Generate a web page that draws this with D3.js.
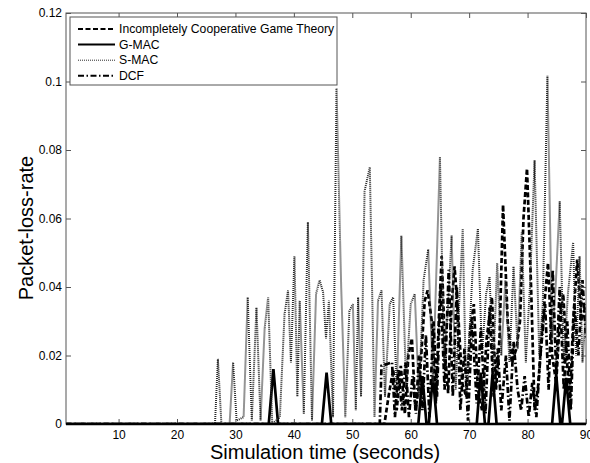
<!DOCTYPE html>
<html>
<head>
<meta charset="utf-8">
<script src="https://cdn.jsdelivr.net/npm/d3@7"></script>
<style>
  body { margin: 0; background: #fff; }
  svg { font-family: Arial, "Liberation Sans", sans-serif; }
</style>
</head>
<body>
<svg id="chart" width="590" height="463"></svg>
<script>
// tick labels
const xTicks = [10, 20, 30, 40, 50, 60, 70, 80, 90];
const yTicks = [0, 0.02, 0.04, 0.06, 0.08, 0.1, 0.12];

// series as [time, packet-loss-rate]
const gameTheory = [[1,0],[55.5,0],[56.2,0.008],[57,0.016],[57.6,0.004],[58.3,0.017],[59,0.003],[59.6,0.02],[60.2,0.025],[60.8,0.004],[61.5,0.012],[62.4,0.036],[62.9,0.039],[63.6,0.03],[64.3,0.006],[64.8,0.03],[65.3,0.049],[65.9,0.02],[66.4,0.009],[67,0.035],[67.5,0.046],[68.2,0.03],[68.8,0.012],[69.5,0.008],[70.2,0.028],[70.8,0.035],[71.5,0.01],[72.2,0.004],[73,0.025],[73.9,0.037],[74.6,0.01],[75.2,0.025],[75.8,0.064],[76.6,0.03],[77.3,0.018],[78.1,0.022],[78.7,0.03],[79.3,0.06],[79.9,0.0746],[80.6,0.04],[81.2,0.004],[81.8,0.011],[82.6,0.03],[83.5,0.047],[84.2,0.02],[84.9,0.012],[85.5,0.03],[86.1,0.038],[86.7,0.02],[87.2,0.005],[87.8,0.03],[88.5,0.048],[89.2,0.03],[90,0.035]];

const gmac = [[1,0],[35.7,0],[36.5,0.016],[37.3,0],[44.8,0],[45.6,0.015],[46.4,0],[61.3,0],[62,0.014],[62.7,0],[63.1,0],[63.8,0.014],[64.5,0],[71.3,0],[72,0.015],[72.7,0],[73.3,0],[74,0.0146],[74.7,0],[84.2,0],[84.9,0.0146],[85.6,0],[85.9,0],[86.6,0.0135],[87.3,0],[90,0]];

const smac = [[1,0],[26.5,0],[27,0.019],[27.6,0],[29,0],[29.6,0.018],[30.2,0.001],[31.4,0.002],[32.1,0.037],[32.8,0.001],[33.6,0.034],[34.3,0.001],[35,0.028],[35.6,0.037],[36.3,0],[37.6,0.002],[38.4,0.032],[39,0.039],[39.5,0.018],[40.1,0.049],[40.6,0.008],[41,0.036],[41.7,0.003],[42.4,0.059],[43.1,0.001],[43.8,0.038],[44.4,0.042],[45,0.0385],[45.5,0.025],[46,0.036],[46.7,0.002],[47.3,0.098],[48.1,0.04],[48.8,0.002],[49.5,0.033],[50.1,0.035],[50.6,0.004],[51,0.037],[51.5,0.008],[52.1,0.068],[53,0.075],[53.8,0.002],[54.4,0.036],[55,0.039],[55.6,0.008],[56.4,0.035],[57,0.037],[57.6,0.01],[58.4,0.055],[59.2,0.012],[60,0.035],[60.7,0.038],[61.4,0.008],[62.2,0.042],[63,0.051],[63.8,0.012],[64.4,0.045],[65,0.078],[65.7,0.018],[66.3,0.032],[67,0.055],[67.7,0.01],[68.3,0.035],[68.9,0.057],[69.5,0.008],[70.6,0.045],[71.5,0.057],[72.2,0.02],[72.9,0.038],[73.5,0.043],[74.1,0.015],[74.8,0.047],[75.5,0.02],[76.2,0.042],[76.9,0.018],[77.6,0.046],[78.3,0.022],[79,0.056],[79.7,0.018],[80.4,0.04],[81.2,0.077],[82,0.02],[82.6,0.035],[83.4,0.1017],[84.2,0.025],[84.8,0.04],[85.5,0.065],[86.2,0.018],[86.9,0.038],[87.8,0.053],[88.3,0.02],[88.9,0.049],[89.4,0.018],[90,0.033]];

const dcf = [[1,0],[54.7,0],[55,0.017],[56.8,0.018],[57.3,0.002],[57.9,0.016],[58.5,0.004],[59.1,0.018],[59.7,0.002],[60.3,0.014],[60.9,0.003],[61.4,0.02],[62,0.004],[62.6,0.026],[63.2,0.002],[63.9,0.03],[64.5,0.008],[65.1,0.04],[65.8,0.01],[66.5,0.045],[67.2,0.008],[67.9,0.04],[68.5,0.004],[69.2,0.022],[69.8,0.001],[70.5,0.03],[71.3,0.006],[72,0.028],[72.8,0.003],[73.5,0.034],[74.2,0.008],[74.9,0.022],[75.5,0.004],[76.3,0.02],[76.9,0.001],[77.6,0.024],[78.3,0.01],[78.9,0.004],[79.5,0.014],[80.2,0.002],[80.8,0.012],[81.5,0.002],[82.2,0.02],[83,0.035],[83.6,0.01],[84.3,0.045],[84.9,0.015],[85.5,0.04],[86.2,0.01],[86.8,0.03],[87.4,0.004],[88,0.035],[88.7,0.02],[89.4,0.042],[90,0.025]];

const seriesNames = ["Incompletely Cooperative Game Theory", "G-MAC", "S-MAC", "DCF"];

const series = [
    { name: seriesNames[0], values: gameTheory, dash: "5,2.5", width: 2.7, color: "#000" },
    { name: seriesNames[1], values: gmac, dash: null, width: 2.7, color: "#000" },
    { name: seriesNames[2], values: smac, dash: "1,1", width: 2, color: "#2a2a2a" },
    { name: seriesNames[3], values: dcf, dash: "6,2.5,1.5,2.5", width: 2.7, color: "#000" }
];

const svg = d3.select("#chart");
const plotLeft = 66, plotRight = 586, plotTop = 13, plotBottom = 424;

const x = d3.scaleLinear().domain([1, 90]).range([plotLeft, plotRight]);
const y = d3.scaleLinear().domain([0, 0.12]).range([plotBottom, plotTop]);

svg.append("defs").append("clipPath").attr("id", "clip")
    .append("rect")
    .attr("x", plotLeft).attr("y", plotTop)
    .attr("width", plotRight - plotLeft).attr("height", plotBottom - plotTop);

// lines
const line = d3.line().x(d => x(d[0])).y(d => y(d[1]));

svg.append("g").attr("clip-path", "url(#clip)")
    .selectAll("path")
    .data(series)
    .enter().append("path")
    .attr("d", d => line(d.values))
    .attr("fill", "none")
    .attr("stroke", d => d.color)
    .attr("stroke-width", d => d.width)
    .attr("stroke-dasharray", d => d.dash)
    .attr("stroke-linejoin", "miter");

// axes, MATLAB style: ticks inside on all four sides
const axisColor = "#555";
const fmtY = d => d === 0 ? "0" : String(+d.toFixed(2));

function styleAxis(g) {
    g.select(".domain").remove();
    g.selectAll(".tick line").attr("stroke", axisColor);
    g.selectAll(".tick text").attr("fill", "#000").style("font-size", "12px");
}

svg.append("g")
    .attr("transform", `translate(0,${plotBottom})`)
    .call(d3.axisBottom(x).tickValues(xTicks).tickSizeInner(-5).tickSizeOuter(0).tickPadding(6))
    .call(styleAxis);

svg.append("g")
    .attr("transform", `translate(0,${plotTop})`)
    .call(d3.axisTop(x).tickValues(xTicks).tickSizeInner(-5).tickSizeOuter(0).tickFormat(""))
    .call(styleAxis);

svg.append("g")
    .attr("transform", `translate(${plotLeft},0)`)
    .call(d3.axisLeft(y).tickValues(yTicks).tickSizeInner(-5).tickSizeOuter(0).tickPadding(4).tickFormat(fmtY))
    .call(styleAxis);

svg.append("g")
    .attr("transform", `translate(${plotRight},0)`)
    .call(d3.axisRight(y).tickValues(yTicks).tickSizeInner(-5).tickSizeOuter(0).tickFormat(""))
    .call(styleAxis);

svg.append("rect")
    .attr("x", plotLeft).attr("y", plotTop)
    .attr("width", plotRight - plotLeft).attr("height", plotBottom - plotTop)
    .attr("fill", "none")
    .attr("stroke", axisColor)
    .attr("stroke-width", 1);

// the zero line looks heavy because every series sits on it
svg.append("line")
    .attr("x1", plotLeft).attr("x2", plotRight)
    .attr("y1", y(0)).attr("y2", y(0))
    .attr("stroke", "#000").attr("stroke-width", 2.5);

// axis titles
svg.append("text")
    .attr("x", (plotLeft + plotRight) / 2 - 1)
    .attr("y", 459)
    .attr("text-anchor", "middle")
    .style("font-size", "20px")
    .text("Simulation time (seconds)");

svg.append("text")
    .attr("transform", "translate(33,228) rotate(-90)")
    .attr("text-anchor", "middle")
    .style("font-size", "20px")
    .text("Packet-loss-rate");

// legend
const legend = svg.append("g");
legend.append("rect")
    .attr("x", 70).attr("y", 17)
    .attr("width", 267).attr("height", 68)
    .attr("fill", "#fff")
    .attr("stroke", axisColor);

const rows = legend.selectAll(".row")
    .data(series)
    .enter().append("g")
    .attr("class", "row")
    .attr("transform", (d, i) => `translate(0,${29 + i * 15.6})`);

rows.append("line")
    .attr("x1", 78).attr("x2", 115)
    .attr("stroke", d => d.color)
    .attr("stroke-width", d => d.name === "S-MAC" ? 1 : 2)
    .attr("stroke-dasharray", d => d.dash);

rows.append("text")
    .attr("x", 119).attr("dy", "0.35em")
    .style("font-size", "12.2px")
    .text(d => d.name);
</script>
</body>
</html>
